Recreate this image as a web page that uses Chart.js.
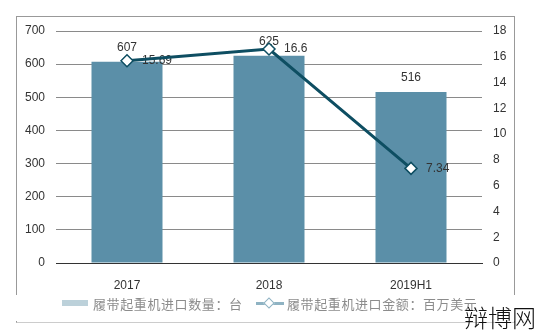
<!DOCTYPE html>
<html>
<head>
<meta charset="utf-8">
<script src="https://cdn.jsdelivr.net/npm/chart.js@4"></script>
<style>
  html, body { margin: 0; padding: 0; background: #fff; }
  #wrap { position: relative; width: 537px; height: 335px; overflow: hidden; }
  #frame { position: absolute; left: 16px; top: 16px; width: 497px; height: 305px;
           border: 1px solid #999; border-bottom-color: #ccc; }
  #c { position: absolute; left: 0; top: 0; }
  #legend { position: absolute; left: 0; top: 295px; width: 537px; height: 26px; background: #fff;
            font: 13px "Noto Sans CJK SC", sans-serif; color: #8c8c8c; letter-spacing: 0.6px; }
  .item { position: absolute; top: 0; height: 18px; line-height: 18px; white-space: nowrap; }
  .box { position: absolute; top: 5px; width: 26px; height: 6px; background: #bcd1da; }
  .ln { position: absolute; top: 7px; width: 28px; height: 3px; background: #8fb3c3; }
  .dia { position: absolute; top: 4px; left: 9px; width: 6px; height: 6px; background: #fff;
         border: 1px solid #8fb3c3; transform: rotate(45deg); }
  #wm { position: absolute; left: 464px; top: 299px; font: 300 24px "Noto Sans CJK SC", sans-serif;
        color: #111; }
</style>
</head>
<body>
<div id="wrap">
  <div id="frame"></div>
  <canvas id="c" width="537" height="335"></canvas>
  <div id="legend">
    <div class="item" style="left:62px"><span class="box" style="left:0"></span><span style="margin-left:31px">履带起重机进口数量：台</span></div>
    <div class="item" style="left:256px"><span class="ln" style="left:0"></span><span class="dia"></span><span style="margin-left:31px">履带起重机进口金额：百万美元</span></div>
  </div>
  <div id="wm">辩博网</div>
</div>
<script>
// categories and series
const periods = ['2017', '2018', '2019H1'];
const units = [607, 625, 516];          // 台
const amounts = [15.69, 16.6, 7.34];    // 百万美元
const leftTicks = [0, 700, 100];        // min, max, step
const rightTicks = [0, 18, 2];

const BAR = '#5b8fa8';
const LINE = '#0e4e62';

// value labels: drawn after the bars, before the line goes on top
const valueLabels = {
  id: 'valueLabels',
  afterDatasetDraw(chart, args) {
    if (args.index !== 0) return;
    const ctx = chart.ctx;
    ctx.save();
    ctx.font = '12px "Liberation Sans", Arial, sans-serif';
    ctx.fillStyle = '#333';
    ctx.textBaseline = 'middle';
    ctx.textAlign = 'center';
    chart.getDatasetMeta(0).data.forEach((bar, i) => {
      ctx.fillText(String(units[i]), bar.x, bar.y - 14);
    });
    ctx.textAlign = 'left';
    chart.getDatasetMeta(1).data.forEach((pt, i) => {
      ctx.fillText(String(amounts[i]), pt.x + 15, pt.y);
    });
    ctx.restore();
  }
};

new Chart(document.getElementById('c'), {
  data: {
    labels: periods,
    datasets: [
      {
        type: 'bar', label: '履带起重机进口数量：台', data: units, yAxisID: 'y',
        backgroundColor: BAR, barPercentage: 0.5, categoryPercentage: 1, order: 1
      },
      {
        type: 'line', label: '履带起重机进口金额：百万美元', data: amounts, yAxisID: 'y1',
        borderColor: LINE, borderWidth: 3, pointStyle: 'rectRot', pointRadius: 6,
        pointBackgroundColor: '#fff', pointBorderColor: LINE, pointBorderWidth: 1.5, order: 0
      }
    ]
  },
  options: {
    responsive: false,
    animation: false,
    layout: { padding: { top: 31, left: 0, right: 0, bottom: 0 } },
    plugins: { legend: { display: false }, tooltip: { enabled: false } },
    scales: {
      x: {
        grid: { display: false },
        border: { display: true, color: '#333', width: 1 },
        ticks: { color: '#333', font: { family: '"Liberation Sans", Arial', size: 12 }, padding: 7 },
        afterFit: s => { s.height = 72; }
      },
      y: {
        position: 'left', min: leftTicks[0], max: leftTicks[1],
        grid: { color: '#8a8a8a', drawTicks: false },
        border: { display: false },
        ticks: { stepSize: leftTicks[2], color: '#333', padding: 11,
                 font: { family: '"Liberation Sans", Arial', size: 12 } },
        afterFit: s => { s.width = 56; }
      },
      y1: {
        position: 'right', min: rightTicks[0], max: rightTicks[1],
        grid: { display: false, drawTicks: false },
        border: { display: false },
        ticks: { stepSize: rightTicks[2], color: '#333', padding: 11,
                 font: { family: '"Liberation Sans", Arial', size: 12 } },
        afterFit: s => { s.width = 55; }
      }
    }
  },
  plugins: [valueLabels]
});
</script>
</body>
</html>
